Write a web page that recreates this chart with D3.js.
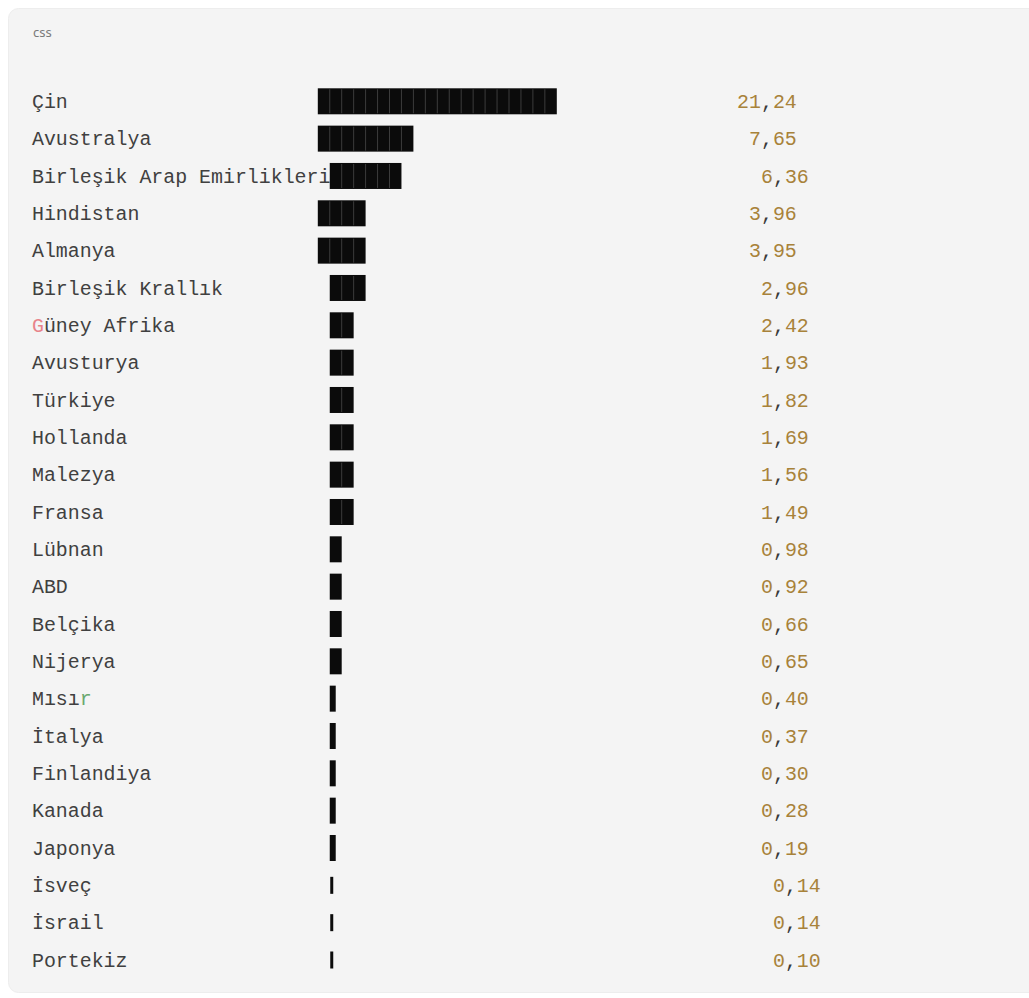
<!DOCTYPE html>
<html>
<head>
<meta charset="utf-8">
<script src="https://cdn.jsdelivr.net/npm/d3@7"></script>
<style>
  html, body { margin: 0; padding: 0; background: #ffffff; }
  svg { display: block; }
</style>
</head>
<body>
<script>
// ---- data ----
const countries = [
  "Çin", "Avustralya", "Birleşik Arap Emirlikleri", "Hindistan", "Almanya",
  "Birleşik Krallık", "Güney Afrika", "Avusturya", "Türkiye", "Hollanda",
  "Malezya", "Fransa", "Lübnan", "ABD", "Belçika", "Nijerya", "Mısır",
  "İtalya", "Finlandiya", "Kanada", "Japonya", "İsveç", "İsrail", "Portekiz"
];
const values = [
  21.24, 7.65, 6.36, 3.96, 3.95, 2.96, 2.42, 1.93, 1.82, 1.69, 1.56, 1.49,
  0.98, 0.92, 0.66, 0.65, 0.40, 0.37, 0.30, 0.28, 0.19, 0.14, 0.14, 0.10
];
const blockThresholds = [0.15, 0.5, 1.2, 2.5, 3.5, 5, 7, 10];
const blockCounts = [0.25, 0.5, 1, 2, 3, 4, 6, 8, 20];
const codeLanguage = "css";

// ---- layout ----
const W = 1029, H = 998;
const svg = d3.select("body").append("svg").attr("width", W).attr("height", H);

svg.append("rect").attr("x", 0).attr("y", 0).attr("width", W).attr("height", H).attr("fill", "#ffffff");
svg.append("rect")
  .attr("x", 8.5).attr("y", 8.5).attr("width", W + 20).attr("height", 984)
  .attr("rx", 10).attr("fill", "#f4f4f4").attr("stroke", "#ededed");

svg.append("text")
  .attr("x", 33).attr("y", 37)
  .attr("font-family", "'Noto Sans', 'DejaVu Sans', sans-serif")
  .attr("font-size", 13).attr("fill", "#7a7a7a")
  .text(codeLanguage);

const mono = "'Liberation Mono', 'DejaVu Sans Mono', monospace";
const col = d3.scaleLinear().domain([0, 1]).range([31, 31 + 11.95]);
const y = d3.scalePoint().domain(countries).range([101.3, 960]);
const blocks = d3.scaleThreshold().domain(blockThresholds).range(blockCounts);
const fmt = d3.formatLocale({ decimal: ",", thousands: ".", grouping: [3], currency: ["", ""] }).format(".2f");

const rows = countries.map((c, i) => {
  const b = blocks(values[i]);
  const start = Math.max(b >= 4 ? 24 : 25, c.length);
  const thin = b < 0.5;
  return { c, v: values[i], b, start, thin, end: start + 40 + (thin ? 1 : 0) };
});

const g = svg.append("g");

// labels
const labelColor = "#404040";
const lab = g.selectAll("text.label").data(rows).join("text")
  .attr("class", "label")
  .attr("x", col(0) + 1).attr("y", d => y(d.c) + 6.7)
  .attr("font-family", mono).attr("font-size", 19.9).attr("fill", labelColor)
  .attr("xml:space", "preserve");
lab.each(function(d) {
  const t = d3.select(this);
  if (d.c === "Güney Afrika") {
    t.append("tspan").attr("fill", "#e8838a").text("G");
    t.append("tspan").text(d.c.slice(1));
  } else if (d.c === "Mısır") {
    t.append("tspan").text("Mısı");
    t.append("tspan").attr("fill", "#6aa86f").text("r");
  } else {
    t.text(d.c);
  }
});

// bars
const barH = 26, thinH = 17;
g.selectAll("rect.bar").data(rows).join("rect")
  .attr("class", "bar")
  .attr("x", d => d.thin ? col(d.start) + 0.5 : col(d.start))
  .attr("y", d => y(d.c) - (d.thin ? thinH : barH) / 2)
  .attr("width", d => d.thin ? 3 : col(d.b) - col(0))
  .attr("height", d => d.thin ? thinH : barH)
  .attr("fill", "#0b0b0b");

// block separators
const seps = [];
rows.forEach(d => {
  for (let k = 1; k < d.b; k++) seps.push({ c: d.c, x: col(d.start + k) });
});
g.selectAll("line.sep").data(seps).join("line")
  .attr("class", "sep")
  .attr("x1", d => d.x).attr("x2", d => d.x)
  .attr("y1", d => y(d.c) - barH / 2 + 1).attr("y2", d => y(d.c) + barH / 2 - 1)
  .attr("stroke", "#3c3c3c").attr("stroke-width", 1);

// values
const vt = g.selectAll("text.val").data(rows).join("text")
  .attr("class", "val")
  .attr("x", d => col(d.end) + 1).attr("y", d => y(d.c) + 6.7)
  .attr("text-anchor", "end")
  .attr("font-family", mono).attr("font-size", 19.9).attr("fill", "#a8823a");
vt.each(function(d) {
  const parts = fmt(d.v).split(",");
  const t = d3.select(this);
  t.append("tspan").text(parts[0]);
  t.append("tspan").attr("fill", "#3a3a3a").text(",");
  t.append("tspan").text(parts[1]);
});
</script>
</body>
</html>
